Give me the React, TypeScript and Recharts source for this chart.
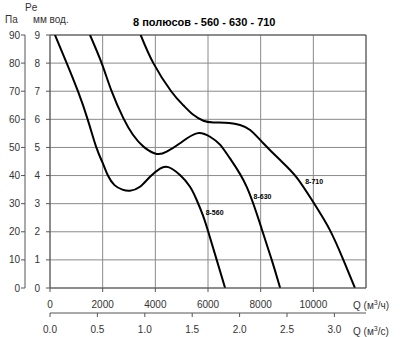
import {
  LineChart,
  Line,
  XAxis,
  YAxis,
  CartesianGrid,
  ReferenceLine,
  ReferenceDot,
} from "recharts";

// Q, m³/h  ->  Pe, mm вод.
const curve560 = [
  { q: 190, p: 9 },
  { q: 634, p: 8 },
  { q: 1060, p: 7 },
  { q: 1430, p: 6 },
  { q: 1760, p: 5 },
  { q: 2000, p: 4.45 },
  { q: 2200, p: 4.0 },
  { q: 2450, p: 3.66 },
  { q: 2750, p: 3.5 },
  { q: 3038, p: 3.46 },
  { q: 3418, p: 3.6 },
  { q: 3798, p: 3.96 },
  { q: 4178, p: 4.25 },
  { q: 4494, p: 4.3 },
  { q: 4937, p: 4.02 },
  { q: 5317, p: 3.6 },
  { q: 5570, p: 3.13 },
  { q: 5800, p: 2.6 },
  { q: 6010, p: 2.0 },
  { q: 6330, p: 1.0 },
  { q: 6650, p: 0 },
];

const curve630 = [
  { q: 1519, p: 9 },
  { q: 1962, p: 8 },
  { q: 2340, p: 7 },
  { q: 2780, p: 6.05 },
  { q: 3150, p: 5.45 },
  { q: 3560, p: 5.02 },
  { q: 4051, p: 4.77 },
  { q: 4431, p: 4.85 },
  { q: 4937, p: 5.15 },
  { q: 5570, p: 5.5 },
  { q: 6077, p: 5.38 },
  { q: 6456, p: 5.1 },
  { q: 6840, p: 4.6 },
  { q: 7470, p: 3.6 },
  { q: 8040, p: 2.1 },
  { q: 8420, p: 1.0 },
  { q: 8740, p: 0 },
];

const curve710 = [
  { q: 3444, p: 9 },
  { q: 3925, p: 8 },
  { q: 4600, p: 7.0 },
  { q: 5063, p: 6.5 },
  { q: 5443, p: 6.16 },
  { q: 5823, p: 5.95 },
  { q: 6203, p: 5.89 },
  { q: 6800, p: 5.87 },
  { q: 7216, p: 5.8 },
  { q: 7600, p: 5.62 },
  { q: 8100, p: 5.15 },
  { q: 8740, p: 4.55 },
  { q: 9370, p: 3.93 },
  { q: 10000, p: 3.05 },
  { q: 10630, p: 2.06 },
  { q: 11140, p: 1.0 },
  { q: 11580, p: 0 },
];

const qTicks = [0, 2000, 4000, 6000, 8000, 10000];
const qsTicks = [0, 0.5, 1.0, 1.5, 2.0, 2.5, 3.0];
const mmTicks = [0, 1, 2, 3, 4, 5, 6, 7, 8, 9];
const paTicks = [0, 10, 20, 30, 40, 50, 60, 70, 80, 90];

const curveLabels = [
  { name: "8-560", q: 6250, p: 2.67 },
  { name: "8-630", q: 8070, p: 3.25 },
  { name: "8-710", q: 10030, p: 3.78 },
];

// same curve in m³/s, only so the second axis gets drawn
const curve710s = curve710.map((d) => ({ s: d.q / 3600, p: d.p }));

const font = "'Liberation Sans', Arial, sans-serif";
const tickStyle = { fontSize: 10, fill: "#333", fontFamily: font };

function Txt({ x, y, size, bold, children }: { x: number; y: number; size: number; bold?: boolean; children: React.ReactNode }) {
  return (
    <div
      style={{
        position: "absolute",
        left: x,
        top: y - size / 2,
        fontSize: size,
        lineHeight: `${size}px`,
        fontFamily: font,
        fontWeight: bold ? "bold" : "normal",
        color: bold ? "#000" : "#333",
        whiteSpace: "nowrap",
      }}
    >
      {children}
    </div>
  );
}

export default function App() {
  return (
    <div style={{ position: "absolute", left: 0, top: 0, width: 400, height: 337, background: "#fff" }}>
      <LineChart width={400} height={337} margin={{ top: 35, right: 34, left: 0, bottom: 0 }}>
        <CartesianGrid xAxisId="q" yAxisId="mm" stroke="#8a8a8a" />
        <XAxis
          xAxisId="q"
          dataKey="q"
          type="number"
          domain={[0, 12000]}
          ticks={qTicks}
          height={25}
          axisLine={{ stroke: "#555" }}
          tickLine={{ stroke: "#555" }}
          tickSize={4}
          tickMargin={9}
          tick={tickStyle}
          allowDataOverflow
        />
        <XAxis
          xAxisId="s"
          dataKey="s"
          type="number"
          domain={[0, 12000 / 3600]}
          ticks={qsTicks}
          height={24}
          axisLine={{ stroke: "#555" }}
          tickLine={{ stroke: "#555" }}
          tickSize={4}
          tickMargin={9}
          tick={tickStyle}
          tickFormatter={(v: number) => v.toFixed(1)}
          allowDataOverflow
        />
        <YAxis
          yAxisId="mm"
          type="number"
          domain={[0, 9]}
          ticks={mmTicks}
          width={25}
          axisLine={false}
          tickLine={{ stroke: "#555" }}
          tickSize={4}
          tickMargin={6}
          tick={tickStyle}
          allowDataOverflow
        />
        <YAxis
          yAxisId="pa"
          type="number"
          domain={[0, 90]}
          ticks={paTicks}
          width={25}
          axisLine={{ stroke: "#555" }}
          tickLine={{ stroke: "#555" }}
          tickSize={4}
          tickMargin={1}
          tick={tickStyle}
          allowDataOverflow
        />
        <ReferenceLine xAxisId="q" yAxisId="mm" x={12000} stroke="#555" />
        <ReferenceLine xAxisId="q" yAxisId="mm" y={9} stroke="#555" />
        <ReferenceLine xAxisId="q" yAxisId="mm" x={0} stroke="#555" />
        <Line xAxisId="s" yAxisId="mm" data={curve710s} dataKey="p" type="monotone" dot={false} stroke="none" isAnimationActive={false} />
        <Line xAxisId="q" yAxisId="mm" data={curve560} dataKey="p" type="natural" dot={false} stroke="#000" strokeWidth={2} isAnimationActive={false} />
        <Line xAxisId="q" yAxisId="mm" data={curve630} dataKey="p" type="natural" dot={false} stroke="#000" strokeWidth={2} isAnimationActive={false} />
        <Line xAxisId="q" yAxisId="mm" data={curve710} dataKey="p" type="natural" dot={false} stroke="#000" strokeWidth={2} isAnimationActive={false} />
        {curveLabels.map((c) => (
          <ReferenceDot
            key={c.name}
            xAxisId="q"
            yAxisId="mm"
            x={c.q}
            y={c.p}
            r={1}
            fill="none"
            stroke="none"
            label={{ value: c.name, position: "center", fontSize: 7, fontWeight: "bold", fill: "#000", fontFamily: font }}
          />
        ))}
      </LineChart>
      <Txt x={25} y={8} size={10}>Pe</Txt>
      <Txt x={5} y={20} size={10}>Па</Txt>
      <Txt x={33} y={20} size={10}>мм вод.</Txt>
      <Txt x={133} y={22} size={11} bold>8 полюсов - 560 - 630 - 710</Txt>
      <Txt x={353} y={303} size={10}>Q (м<sup style={{ fontSize: 7 }}>3</sup>/ч)</Txt>
      <Txt x={353} y={329} size={10}>Q (м<sup style={{ fontSize: 7 }}>3</sup>/с)</Txt>
    </div>
  );
}
